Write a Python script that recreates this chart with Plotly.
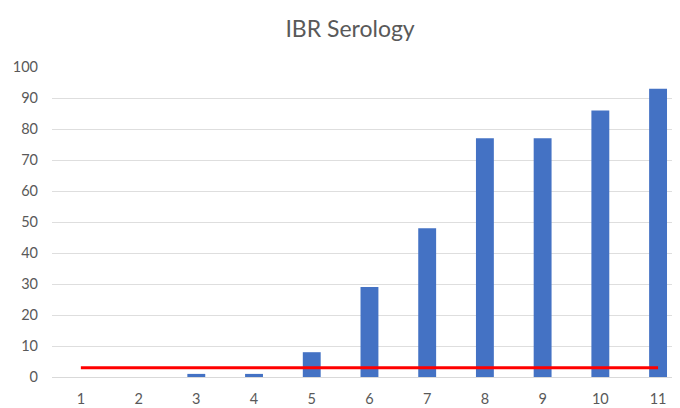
import plotly.graph_objects as go

categories = [1, 2, 3, 4, 5, 6, 7, 8, 9, 10, 11]
values = [0, 0, 1, 1, 8, 29, 48, 77, 77, 86, 93]
cutoff = [3, 3, 3, 3, 3, 3, 3, 3, 3, 3, 3]
y_ticks = [0, 10, 20, 30, 40, 50, 60, 70, 80, 90, 100]

fig = go.Figure()
fig.add_trace(go.Bar(x=categories, y=values, width=0.31,
                     marker=dict(color="#4472C4", line=dict(width=0))))
fig.add_trace(go.Scatter(x=categories, y=cutoff, mode="lines",
                         line=dict(color="#FF0000", width=3)))

fig.update_layout(
    width=672, height=400,
    margin=dict(l=44, r=0, t=59, b=31),
    paper_bgcolor="white", plot_bgcolor="white",
    showlegend=False,
    font=dict(family="Lato, Open Sans, sans-serif", color="#595959", size=14),
    title=dict(text="IBR Serology", x=0.509, xanchor="center", y=0.948, yanchor="middle",
               font=dict(size=23, color="#595959")),
)
fig.update_xaxes(range=[0.5, 11.38], tickvals=categories, ticktext=[str(c) for c in categories],
                 showgrid=False, zeroline=False, showline=False, ticks="", ticklabelstandoff=11,
                 tickfont=dict(size=14.5, color="#595959"))
fig.update_yaxes(range=[0, 100], tickvals=y_ticks, showgrid=True, gridcolor="#DEDEDE", gridwidth=1,
                 zeroline=True, zerolinecolor="#D9D9D9", zerolinewidth=1,
                 showline=False, ticks="", ticklabelstandoff=13,
                 tickfont=dict(size=14.5, color="#595959"))

fig.write_html("out.html")
